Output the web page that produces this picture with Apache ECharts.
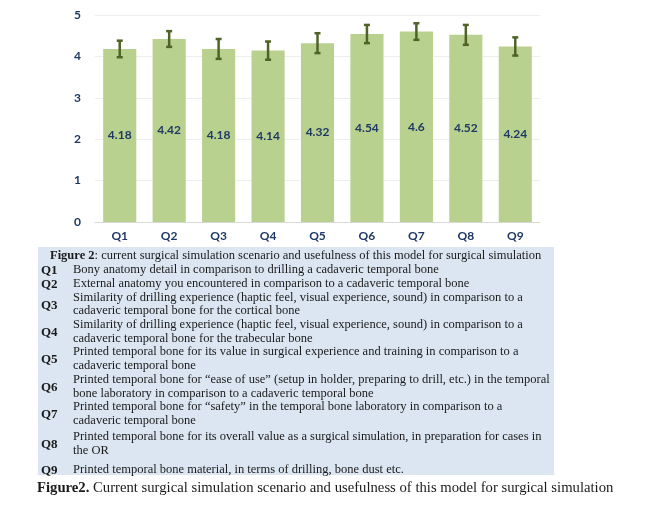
<!DOCTYPE html>
<html>
<head>
<meta charset="utf-8">
<script src="https://cdn.jsdelivr.net/npm/echarts@6/dist/echarts.min.js"></script>
<style>
  html, body { margin: 0; padding: 0; background: #fff; }
  #chart { width: 668px; height: 506px; }
</style>
</head>
<body>
<div id="chart"></div>
<script>
// data
const questions = ['Q1', 'Q2', 'Q3', 'Q4', 'Q5', 'Q6', 'Q7', 'Q8', 'Q9'];
const means = [4.18, 4.42, 4.18, 4.14, 4.32, 4.54, 4.6, 4.52, 4.24];
const errors = [0.2, 0.19, 0.24, 0.22, 0.24, 0.22, 0.2, 0.24, 0.22];
const yTicks = [0, 1, 2, 3, 4, 5];

const tableTitle = ': current surgical simulation scenario and usefulness of this model for surgical simulation';
const descriptions = [
  ['Bony anatomy detail in comparison to drilling a cadaveric temporal bone'],
  ['External anatomy you encountered in comparison to a cadaveric temporal bone'],
  ['Similarity of drilling experience (haptic feel, visual experience, sound) in comparison to a', 'cadaveric temporal bone for the cortical bone'],
  ['Similarity of drilling experience (haptic feel, visual experience, sound) in comparison to a', 'cadaveric temporal bone for the trabecular bone'],
  ['Printed temporal bone for its value in surgical experience and training in comparison to a', 'cadaveric temporal bone'],
  ['Printed temporal bone for \u201cease of use\u201d (setup in holder, preparing to drill, etc.) in the temporal', 'bone laboratory in comparison to a cadaveric temporal bone'],
  ['Printed temporal bone for \u201csafety\u201d in the temporal bone laboratory in comparison to a', 'cadaveric temporal bone'],
  ['Printed temporal bone for its overall value as a surgical simulation, in preparation for cases in', 'the OR'],
  ['Printed temporal bone material, in terms of drilling, bone dust etc.']
];
const caption = ' Current surgical simulation scenario and usefulness of this model for surgical simulation';

const navy = '#1f3864';
const serif = '"Liberation Serif", "Times New Roman", serif';
const bodyFont = '12.5px ' + serif;
const ink = '#1a1a1a';

// table block built from the text arrays
const graphics = [{
  type: 'rect',
  shape: { x: 38, y: 247, width: 516, height: 228 },
  style: { fill: '#dce6f2' },
  silent: true
}, {
  type: 'text',
  style: {
    x: 50, y: 256, verticalAlign: 'middle',
    text: '{b|Figure 2}' + tableTitle,
    font: bodyFont, fill: ink,
    rich: { b: { font: 'bold 12.5px ' + serif, fill: ink } }
  }
}];

const lineH = 13.7;
const extraGap = [0, 0, 0, 0, 0, 0, 0, 2.5, 5];
let y = 270;
descriptions.forEach((lines, i) => {
  y += extraGap[i];
  const mid = y + (lines.length - 1) * lineH / 2;
  graphics.push({
    type: 'text',
    style: { x: 41, y: mid + 1, verticalAlign: 'middle', text: questions[i], font: 'bold 13px ' + serif, fill: ink }
  });
  lines.forEach((t, k) => {
    graphics.push({
      type: 'text',
      style: { x: 73, y: y + k * lineH, verticalAlign: 'middle', text: t, font: bodyFont, fill: ink }
    });
  });
  y += lines.length * lineH;
});

graphics.push({
  type: 'text',
  style: {
    x: 37, y: 488, verticalAlign: 'middle',
    text: '{b|Figure2.}' + caption,
    font: '14.7px ' + serif, fill: ink,
    rich: { b: { font: 'bold 14.7px ' + serif, fill: ink } }
  }
});

const chart = echarts.init(document.getElementById('chart'));

const option = {
  animation: false,
  grid: { left: 95, right: 128, top: 15, bottom: 284 },
  xAxis: {
    type: 'category',
    data: questions,
    axisLine: { lineStyle: { color: '#d9d9d9' } },
    axisTick: { show: false },
    axisLabel: { color: navy, fontWeight: 'bold', fontSize: 12, fontFamily: 'Lato', margin: 8 }
  },
  yAxis: {
    type: 'value',
    min: yTicks[0],
    max: yTicks[yTicks.length - 1],
    interval: 1,
    axisLine: { show: false },
    axisTick: { show: false },
    splitLine: { lineStyle: { color: '#eeeeee' } },
    axisLabel: { color: navy, fontWeight: 'bold', fontSize: 12, fontFamily: 'Lato', margin: 14 }
  },
  series: [{
    name: 'Mean',
    type: 'bar',
    data: means,
    barCategoryGap: '33%',
    itemStyle: { color: '#b9d18e' },
    label: { show: true, position: 'inside', color: navy, fontWeight: 'bold', fontSize: 12, fontFamily: 'Lato' }
  }, {
    name: 'SD',
    type: 'custom',
    data: means.map((m, i) => [i, m - errors[i], m + errors[i]]),
    z: 5,
    renderItem: function (params, api) {
      const xi = api.value(0);
      const lo = api.coord([xi, api.value(1)]);
      const hi = api.coord([xi, api.value(2)]);
      const cap = 3;
      const st = { stroke: '#4f6228', lineWidth: 2.5 };
      return {
        type: 'group',
        children: [
          { type: 'line', shape: { x1: hi[0], y1: hi[1], x2: lo[0], y2: lo[1] }, style: st },
          { type: 'line', shape: { x1: hi[0] - cap, y1: hi[1], x2: hi[0] + cap, y2: hi[1] }, style: st },
          { type: 'line', shape: { x1: lo[0] - cap, y1: lo[1], x2: lo[0] + cap, y2: lo[1] }, style: st }
        ]
      };
    }
  }],
  graphic: graphics
};

chart.setOption(option);
</script>
</body>
</html>
